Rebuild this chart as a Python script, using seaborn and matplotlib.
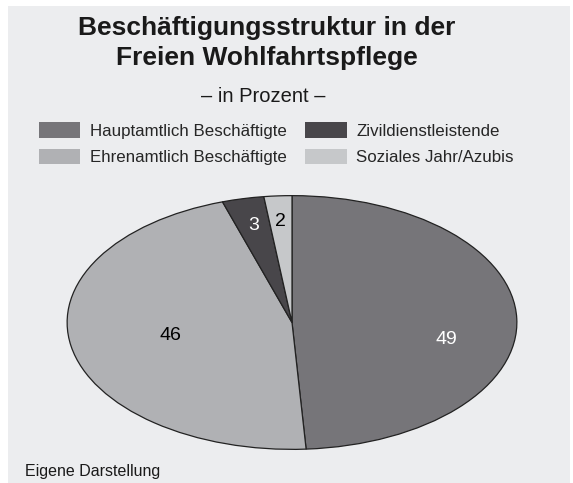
import numpy as np
import matplotlib.pyplot as plt
import seaborn as sns
from matplotlib.patches import Rectangle

sns.set_theme(style="white")
plt.rcParams["font.family"] = ["Liberation Sans", "DejaVu Sans"]

# DATA
categories = [
    "Hauptamtlich Beschäftigte",
    "Ehrenamtlich Beschäftigte",
    "Zivildienstleistende",
    "Soziales Jahr/Azubis",
]
shares = [49, 46, 3, 2]
colors = ["#767579", "#b0b1b4", "#48464a", "#c6c8ca"]
label_colors = ["white", "black", "white", "black"]
# label placement inside each wedge (radius fraction, angle shift in degrees)
label_dist = [0.70, 0.55, 0.78, 0.80]
label_shift = [-13, 0, 0, 0]

BG = "#ecedef"

fig = plt.figure(figsize=(5.73, 4.83), dpi=100)
fig.patch.set_facecolor("white")
fig.add_artist(Rectangle((8 / 573, 0), 562 / 573, 477 / 483,
                         transform=fig.transFigure, facecolor=BG,
                         edgecolor="none", zorder=-10))

ax = fig.add_axes([66 / 573, 33 / 483, 452 / 573, 255 / 483])
wedges, texts = ax.pie(
    shares,
    colors=colors,
    startangle=90,
    counterclock=False,
    wedgeprops=dict(edgecolor="#222222", linewidth=0.9),
)
ax.set_aspect("auto")
ax.set_xlim(-1.005, 1.005)
ax.set_ylim(-1.005, 1.005)
ax.set_facecolor("none")

# value labels inside the wedges
for w, val, c, d, s in zip(wedges, shares, label_colors, label_dist, label_shift):
    mid = np.deg2rad((w.theta1 + w.theta2) / 2 + s)
    ax.text(d * np.cos(mid), d * np.sin(mid), str(val), ha="center",
            va="center", fontsize=14, color=c)

fig.text(0.466, 0.911, "Beschäftigungsstruktur in der\nFreien Wohlfahrtspflege",
         ha="center", va="center", fontsize=19, fontweight="bold",
         linespacing=1.3, color="#1a1a1a")
fig.text(0.46, 0.80, "– in Prozent –", ha="center", va="center",
         fontsize=14.5, color="#1a1a1a")

fig.legend(
    wedges, categories,
    ncol=2,
    loc="center",
    bbox_to_anchor=(0.482, 0.702),
    frameon=False,
    fontsize=12.2,
    handlelength=2.45,
    handleheight=1.0,
    handletextpad=0.55,
    columnspacing=1.1,
    labelspacing=0.6,
    borderpad=0,
)
# legend patches without outline
for h in fig.legends[0].get_patches():
    h.set_edgecolor("none")

fig.text(25 / 573, 0.023, "Eigene Darstellung", ha="left", va="center",
         fontsize=11.5, color="#1a1a1a")

fig.savefig("out.png", dpi=100, facecolor=fig.get_facecolor())
